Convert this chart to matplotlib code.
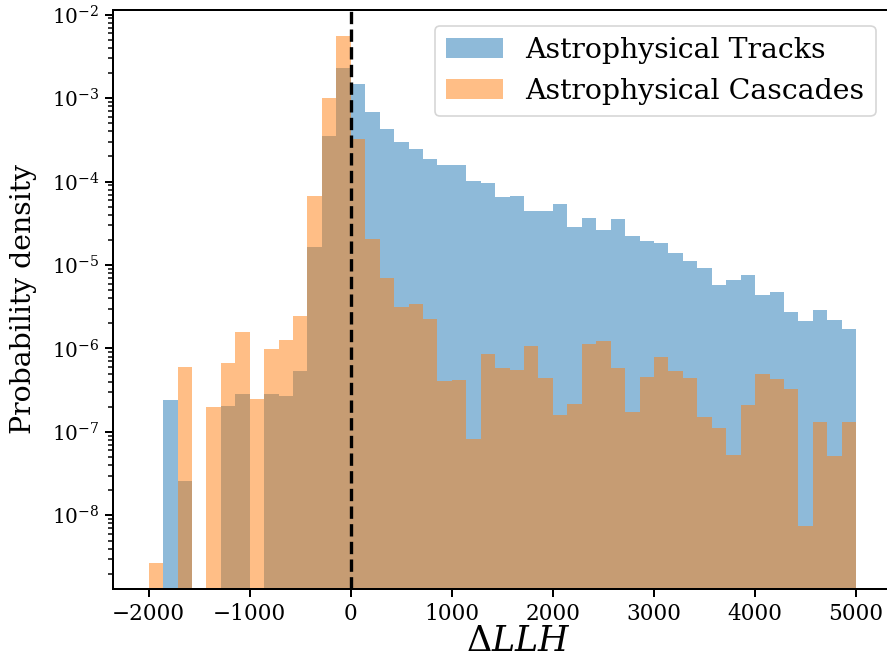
import numpy as np
import matplotlib
matplotlib.use("Agg")
import matplotlib.pyplot as plt

plt.rcParams["font.family"] = "serif"
plt.rcParams["font.serif"] = ["DejaVu Serif"]
plt.rcParams["mathtext.fontset"] = "dejavuserif"

# Histogram bin edges in ΔLLH (49 equal bins)
bin_edges = np.linspace(-2000, 5000, 50)

# Probability density per bin
tracks_density = [
    0, 2.41e-7, 2.58e-8, 0, 0, 2.05e-7, 2.85e-7, 0, 2.85e-7, 2.69e-7,
    5.36e-7, 1.64e-5, 3.52e-4, 2.30e-3, 1.48e-3, 6.82e-4, 4.27e-4, 2.98e-4, 2.46e-4, 1.87e-4,
    1.58e-4, 1.58e-4, 1.02e-4, 9.6e-5, 6.53e-5, 6.7e-5, 4.44e-5, 4.44e-5, 5.38e-5, 2.85e-5,
    3.66e-5, 2.62e-5, 3.56e-5, 2.23e-5, 1.94e-5, 1.84e-5, 1.39e-5, 1.12e-5, 9.2e-6, 5.75e-6,
    6.6e-6, 7.6e-6, 4.37e-6, 4.74e-6, 2.73e-6, 2.13e-6, 2.88e-6, 2.19e-6, 1.71e-6,
]
cascades_density = [
    2.69e-9, 0, 6.0e-7, 0, 1.99e-7, 6.7e-7, 1.58e-6, 2.48e-7, 9.8e-7, 1.26e-6,
    2.44e-6, 6.7e-5, 1.0e-3, 5.56e-3, 3.21e-4, 2.05e-5, 7.05e-6, 3.14e-6, 3.44e-6, 2.25e-6,
    4.07e-7, 4.18e-7, 8.2e-8, 8.6e-7, 5.84e-7, 5.53e-7, 1.07e-6, 4.43e-7, 1.6e-7, 2.16e-7,
    1.13e-6, 1.23e-6, 5.84e-7, 1.73e-7, 4.56e-7, 7.9e-7, 5.36e-7, 4.43e-7, 1.51e-7, 1.11e-7,
    5.29e-8, 2.10e-7, 4.93e-7, 4.3e-7, 3.26e-7, 7.5e-9, 1.32e-7, 5.14e-8, 1.32e-7,
]
labels = ["Astrophysical Tracks", "Astrophysical Cascades"]

W, H, DPI = 887, 660, 120
fig = plt.figure(figsize=(W / DPI, H / DPI), dpi=DPI)
left, right, top, bottom = 113.3, 891.5, 10.0, 589.0
ax = fig.add_axes([left / W, 1 - bottom / H, (right - left) / W, (bottom - top) / H])

centers = 0.5 * (bin_edges[:-1] + bin_edges[1:])
ax.hist(centers, bins=bin_edges, weights=tracks_density, alpha=0.5,
        color="C0", label=labels[0])
ax.hist(centers, bins=bin_edges, weights=cascades_density, alpha=0.5,
        color="C1", label=labels[1])
ax.axvline(0, color="k", linestyle="--", linewidth=2)

ax.set_yscale("log")
ax.set_xlim(-2350, 5350)
ax.set_ylim(10 ** -8.882, 10 ** -1.944)
ax.set_xticks([-2000, -1000, 0, 1000, 2000, 3000, 4000, 5000])

for s in ax.spines.values():
    s.set_linewidth(1.2)
ax.tick_params(axis="x", which="major", labelsize=13, length=5, width=1.2)
ax.tick_params(axis="y", which="major", labelsize=12, length=5, width=1.2)
ax.tick_params(axis="y", which="minor", length=3, width=0.9)

ax.set_xlabel(r"$\Delta LLH$", fontsize=21, labelpad=0)
ax.xaxis.set_label_coords(0.52, -0.06)
ax.set_ylabel("Probability density", fontsize=17, labelpad=9)
leg = ax.legend(loc="upper right", fontsize=17, borderaxespad=0.55)
leg.get_frame().set_edgecolor("#cccccc")

fig.savefig("out.png", dpi=DPI)
